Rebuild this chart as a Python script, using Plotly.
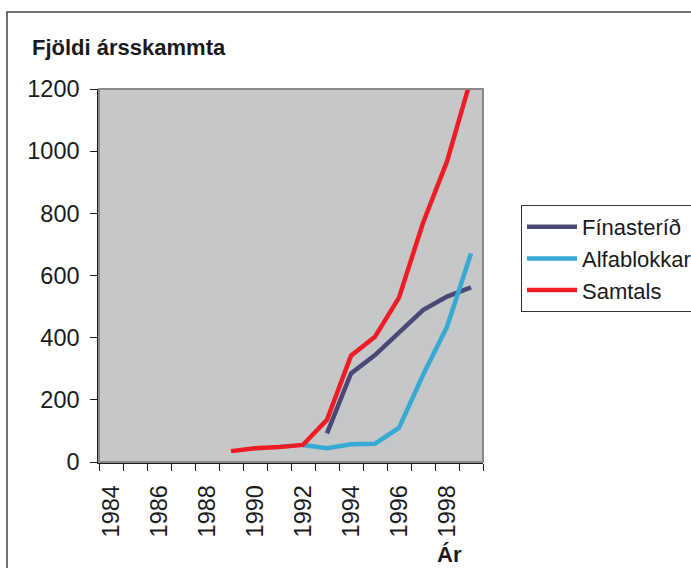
import plotly.graph_objects as go

years = list(range(1984, 2000))

fin_years = [1993, 1994, 1995, 1996, 1997, 1998, 1999]
fin_values = [92, 285, 344, 419, 489, 532, 562]

alfa_years = [1992, 1993, 1994, 1995, 1996, 1997, 1998, 1999]
alfa_values = [55, 44, 57, 59, 110, 280, 435, 671]

sam_years = [1989, 1990, 1991, 1992, 1993, 1994, 1995, 1996, 1997, 1998, 1999]
sam_values = [35, 44, 48, 55, 136, 342, 403, 529, 769, 967, 1233]

x_labels = [str(y) for y in range(1984, 2000, 2)]

FONT = "Liberation Sans, Arial, sans-serif"

fig = go.Figure()
fig.add_trace(go.Scatter(x=fin_years, y=fin_values, mode="lines", name="Fínasteríð",
                         line=dict(color="#4b4877", width=4.5)))
fig.add_trace(go.Scatter(x=alfa_years, y=alfa_values, mode="lines", name="Alfablokkar",
                         line=dict(color="#36a9d4", width=4.5)))
fig.add_trace(go.Scatter(x=sam_years, y=sam_values, mode="lines", name="Samtals",
                         line=dict(color="#ee1c25", width=4.5)))

fig.update_layout(
    width=691,
    height=568,
    margin=dict(l=99, r=208, t=89, b=106, autoexpand=False),
    paper_bgcolor="white",
    plot_bgcolor="#c6c7c9",
    font=dict(family=FONT, size=21, color="#1a1a1a"),
    showlegend=True,
    legend=dict(
        x=1.099, y=0.689, xanchor="left", yanchor="top",
        bgcolor="white", bordercolor="#333333", borderwidth=1,
        font=dict(size=22, family=FONT, color="#1a1a1a"),
        itemwidth=50,
        tracegroupgap=6,
    ),
    shapes=[
        dict(type="rect", xref="paper", yref="paper", x0=0, x1=1, y0=0, y1=1,
             line=dict(color="#8a8a8a", width=2), layer="above"),
        dict(type="rect", xref="paper", yref="paper", x0=-0.2396, x1=2, y0=-1, y1=1.2064,
             line=dict(color="#444444", width=1.5)),
    ],
    annotations=[
        dict(text="<b>Fjöldi ársskammta</b>", xref="paper", yref="paper", x=-0.1797, y=1.1126,
             xanchor="left", yanchor="middle", showarrow=False, font=dict(size=22, family=FONT)),
        dict(text="<b>Ár</b>", xref="paper", yref="paper", x=0.875, y=-0.247,
             xanchor="left", yanchor="middle", showarrow=False, font=dict(size=22, family=FONT)),
    ],
)

fig.update_xaxes(
    range=[1983.5, 1999.5],
    tickvals=list(range(1984, 2000, 2)),
    ticktext=x_labels,
    tickangle=-90,
    ticks="",
    ticklabelstandoff=12,
    showgrid=False,
    zeroline=False,
    showline=True,
    linecolor="#1a1a1a",
    linewidth=1.5,
    tickfont=dict(size=23.5),
    minor=dict(tick0=1983.5, dtick=1, ticks="outside", ticklen=7, tickcolor="#1a1a1a", showgrid=False),
)
fig.update_yaxes(
    range=[0, 1200],
    dtick=200,
    ticks="outside",
    ticklen=7,
    tickcolor="#1a1a1a",
    ticklabelstandoff=6,
    showgrid=False,
    zeroline=False,
    showline=True,
    linecolor="#1a1a1a",
    linewidth=1.5,
    tickfont=dict(size=23.5),
)

fig.write_html(
    "out.html",
    config={"displayModeBar": False},
    post_script="document.body.style.margin='0';document.body.style.overflow='hidden';",
)
